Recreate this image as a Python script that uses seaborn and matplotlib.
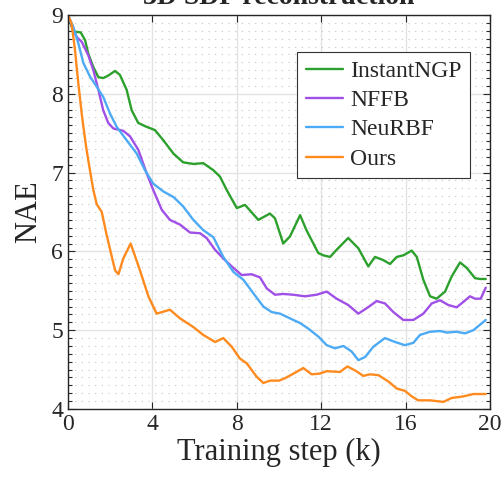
import pandas as pd
import seaborn as sns
import matplotlib
matplotlib.use("Agg")
import matplotlib.pyplot as plt
from matplotlib.ticker import MultipleLocator

# --- DATOS ---
methods = ["InstantNGP", "NFFB", "NeuRBF", "Ours"]
colors = ["#2ca02c", "#a050e6", "#4daaf5", "#ff8a1e"]

ngp_x = [0, 0.25, 0.6, 0.81, 0.96, 1.2, 1.44, 1.67, 1.9, 2.23, 2.46, 2.78, 3.02, 3.33, 3.73,
         4.12, 4.52, 5.0, 5.46, 5.94, 6.41, 6.89, 7.2, 7.52, 8.0, 8.39, 9.02, 9.57, 9.81, 10.2,
         10.52, 11.0, 11.3, 11.86, 12.1, 12.42, 12.73, 13.28, 13.76, 14.23, 14.55, 14.94, 15.26,
         15.58, 15.89, 16.29, 16.53, 16.84, 17.16, 17.47, 17.87, 18.18, 18.58, 18.9, 19.29, 19.53, 19.8]
ngp_y = [9.0, 8.79, 8.78, 8.68, 8.51, 8.34, 8.21, 8.2, 8.23, 8.29, 8.24, 8.05, 7.79, 7.63, 7.58,
         7.54, 7.41, 7.24, 7.13, 7.11, 7.12, 7.03, 6.95, 6.78, 6.55, 6.59, 6.40, 6.48, 6.42, 6.10,
         6.19, 6.46, 6.27, 5.98, 5.95, 5.93, 6.02, 6.17, 6.04, 5.81, 5.93, 5.89, 5.84,
         5.93, 5.95, 6.01, 5.93, 5.64, 5.43, 5.40, 5.49, 5.68, 5.86, 5.79, 5.66, 5.65, 5.65]

nffb_x = [0, 0.2, 0.41, 0.65, 0.96, 1.2, 1.44, 1.67, 1.91, 2.15, 2.62, 2.94, 3.33, 3.73, 4.04,
          4.44, 4.83, 5.31, 5.78, 6.26, 6.57, 6.97, 7.44, 7.84, 8.23, 8.7, 9.1, 9.42, 9.81, 10.2,
          10.68, 11.23, 11.78, 12.26, 12.73, 13.28, 13.76, 14.16, 14.63, 15.02, 15.42, 15.89, 16.37,
          16.84, 17.24, 17.63, 18.02, 18.42, 18.74, 19.05, 19.29, 19.56, 19.8]
nffb_y = [9.0, 8.85, 8.72, 8.66, 8.49, 8.30, 8.05, 7.79, 7.63, 7.56, 7.53, 7.46, 7.29, 6.99, 6.78,
          6.53, 6.40, 6.34, 6.24, 6.23, 6.17, 6.02, 5.89, 5.79, 5.70, 5.71, 5.67, 5.53, 5.45, 5.46,
          5.45, 5.43, 5.45, 5.49, 5.40, 5.32, 5.21, 5.28, 5.37, 5.34, 5.23, 5.13, 5.13,
          5.21, 5.34, 5.38, 5.32, 5.29, 5.36, 5.43, 5.40, 5.40, 5.54]

rbf_x = [0, 0.25, 0.49, 0.73, 1.04, 1.36, 1.67, 1.99, 2.31, 2.78, 3.26, 3.65, 4.04, 4.52, 5.0,
         5.46, 5.94, 6.41, 6.89, 7.36, 7.84, 8.31, 8.78, 9.26, 9.65, 10.05, 10.52, 11.0, 11.39,
         11.86, 12.26, 12.65, 13.05, 13.44, 13.76, 14.08, 14.47, 15.02, 15.5, 15.97, 16.37, 16.68,
         17.16, 17.63, 17.95, 18.42, 18.82, 19.21, 19.53, 19.8]
rbf_y = [9.0, 8.85, 8.64, 8.39, 8.22, 8.09, 7.96, 7.75, 7.58, 7.41, 7.24, 7.03, 6.86, 6.76, 6.69,
         6.57, 6.40, 6.27, 6.18, 5.93, 5.74, 5.64, 5.47, 5.30, 5.23, 5.21, 5.15, 5.09, 5.02,
         4.92, 4.81, 4.77, 4.80, 4.73, 4.62, 4.66, 4.79, 4.90, 4.85, 4.81, 4.84, 4.94,
         4.98, 4.99, 4.97, 4.98, 4.96, 5.0, 5.07, 5.13]

ours_x = [0, 0.17, 0.33, 0.49, 0.65, 0.73, 0.88, 1.04, 1.2, 1.36, 1.6, 1.83, 2.23, 2.39, 2.62,
          2.97, 3.41, 3.81, 4.2, 4.83, 5.31, 5.94, 6.41, 6.97, 7.36, 7.76, 8.15, 8.47, 8.94, 9.26,
          9.57, 10.0, 10.28, 10.76, 11.15, 11.55, 11.94, 12.26, 12.89, 13.24, 13.6, 14.0, 14.31,
          14.71, 15.18, 15.58, 15.97, 16.29, 16.6, 17.16, 17.79, 18.18, 18.74, 19.21, 19.8]
ours_y = [9.0, 8.89, 8.56, 8.13, 7.75, 7.58, 7.29, 7.03, 6.78, 6.60, 6.50, 6.21, 5.76, 5.71, 5.91,
          6.10, 5.76, 5.43, 5.21, 5.26, 5.15, 5.04, 4.94, 4.85, 4.90, 4.79, 4.64, 4.58, 4.41, 4.33,
          4.36, 4.36, 4.39, 4.46, 4.52, 4.44, 4.45, 4.48, 4.47, 4.54, 4.49, 4.42, 4.44,
          4.43, 4.35, 4.26, 4.23, 4.16, 4.11, 4.11, 4.09, 4.14, 4.16, 4.19, 4.19]

x_ticks = [0, 4, 8, 12, 16, 20]
y_ticks = [4, 5, 6, 7, 8, 9]

# --- TABLA LARGA PARA SEABORN ---
series = [(ngp_x, ngp_y), (nffb_x, nffb_y), (rbf_x, rbf_y), (ours_x, ours_y)]
frames = []
for name, (xs, ys) in zip(methods, series):
    frames.append(pd.DataFrame({"step": xs, "nae": ys, "method": name}))
df = pd.concat(frames, ignore_index=True)

# --- ESTILO ---
sns.set_style("ticks")
plt.rcParams["font.family"] = ["Liberation Serif", "DejaVu Serif"]

fig = plt.figure(figsize=(5.04, 4.82), dpi=100)
ax = fig.add_axes([68 / 504, 1 - 409 / 482, 422 / 504, 394 / 482])

sns.lineplot(data=df, x="step", y="nae", hue="method", hue_order=methods,
             palette=dict(zip(methods, colors)), estimator=None, sort=False,
             linewidth=1.7, ax=ax)

ax.set_xlim(0, 20)
ax.set_ylim(4, 9)
ax.set_xticks(x_ticks)
ax.set_yticks(y_ticks)
ax.yaxis.set_minor_locator(MultipleLocator(0.1))

ax.grid(True, which="major", color="#e3e3e3", linewidth=1.0, linestyle="-")
ax.grid(True, which="minor", axis="y", color="#c4c4c4", linewidth=0.8, linestyle=(0, (1, 5)))
ax.set_axisbelow(True)

ax.tick_params(which="both", direction="in", top=True, right=True, colors="#262626",
               labelsize=17, width=0.8)
ax.tick_params(which="major", length=5)
ax.tick_params(which="minor", length=3)
for s in ax.spines.values():
    s.set_color("#262626")
    s.set_linewidth(1.0)

ax.set_xlabel("Training step (k)", fontsize=22, labelpad=2, color="#262626")
ax.set_ylabel("NAE", fontsize=22, labelpad=6, color="#262626")
# el título queda recortado arriba, como en la figura original
ax.set_title("3D SDF reconstruction", fontsize=20, fontweight="bold", pad=8)

sns.move_legend(ax, "upper right", bbox_to_anchor=(0.953, 0.906), title=None,
                fontsize=17, frameon=True, fancybox=False, edgecolor="#333333",
                framealpha=1, borderaxespad=0, handlelength=1.6, handletextpad=0.3,
                labelspacing=0.33, borderpad=0.35)
ax.get_legend().get_frame().set_linewidth(0.8)

fig.savefig("out.png", dpi=100)
